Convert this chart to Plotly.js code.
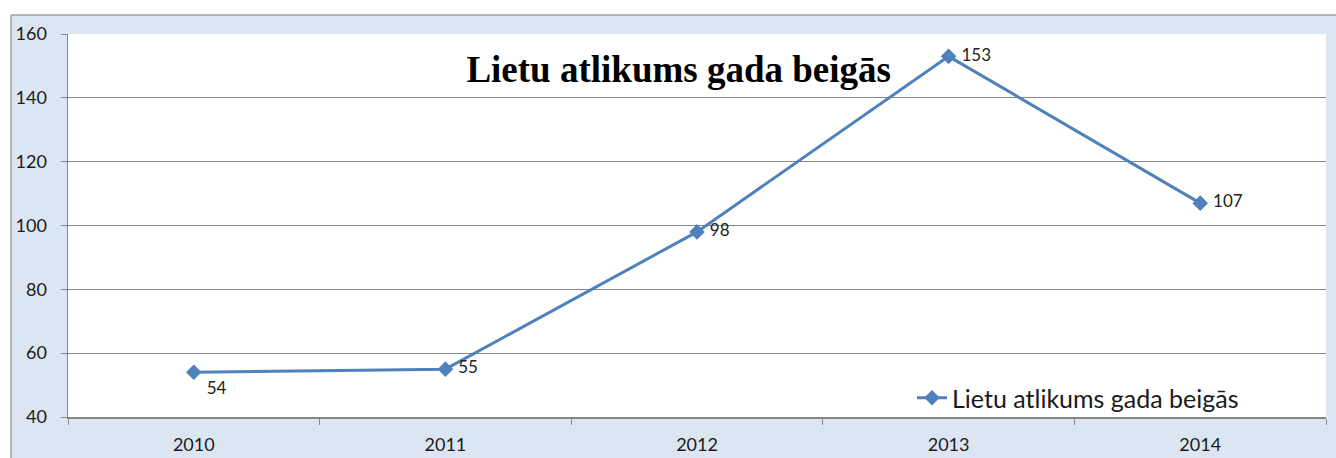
<!DOCTYPE html>
<html>
<head>
<meta charset="utf-8">
<script src="https://cdn.plot.ly/plotly-3.0.1.min.js"></script>
<style>html,body{margin:0;padding:0;background:#fff;}#chart{width:1336px;height:458px;}</style>
</head>
<body>
<div id="chart"></div>
<script>
const years = ["2010", "2011", "2012", "2013", "2014"];
const values = [54, 55, 98, 153, 107];
const seriesName = "Lietu atlikums gada beigās";
const chartTitle = "Lietu atlikums gada beigās";
const labelPositions = ["bottom right", "middle right", "middle right", "middle right", "middle right"];

const font = "Lato, 'Open Sans', sans-serif";

const trace = {
  x: years,
  y: values,
  type: "scatter",
  mode: "lines+markers+text",
  name: seriesName,
  text: values.map(v => "\u00a0" + v),
  textposition: labelPositions,
  textfont: {family: font, size: 17, color: "#222"},
  line: {color: "#4f81bd", width: 3},
  marker: {symbol: "diamond", size: 12, color: "#4f81bd"},
  cliponaxis: false
};

const layout = {
  width: 1336,
  height: 458,
  margin: {l: 68, r: 10, t: 34, b: 41, pad: 0},
  paper_bgcolor: "#dce6f2",
  plot_bgcolor: "#ffffff",
  font: {family: font, size: 18, color: "#1a1a1a"},
  title: {
    text: "<b>" + chartTitle + "</b>",
    font: {family: "'Liberation Serif', 'Times New Roman', serif", size: 37, color: "#000"},
    x: 0.508, xanchor: "center",
    y: 1 - 69 / 458, yanchor: "middle"
  },
  xaxis: {
    type: "category",
    range: [-0.5, 4.5],
    tickson: "boundaries",
    ticks: "outside",
    ticklen: 6,
    tickcolor: "#868686",
    showline: true,
    linecolor: "#868686",
    linewidth: 1.5,
    showgrid: false,
    tickfont: {family: font, size: 18, color: "#1a1a1a"},
    ticklabelstandoff: 11,
    fixedrange: true
  },
  yaxis: {
    range: [40, 160],
    dtick: 20,
    tick0: 40,
    ticks: "outside",
    ticklen: 6,
    tickcolor: "#868686",
    showline: true,
    linecolor: "#868686",
    linewidth: 1.5,
    showgrid: true,
    gridcolor: "#868686",
    gridwidth: 1,
    zeroline: false,
    tickfont: {family: font, size: 18, color: "#1a1a1a"},
    ticklabelstandoff: 10,
    fixedrange: true
  },
  showlegend: true,
  legend: {
    x: (912 - 68) / 1258, xanchor: "left",
    y: (417 - 398) / 383, yanchor: "middle",
    bgcolor: "rgba(0,0,0,0)",
    font: {family: font, size: 25, color: "#1a1a1a"}
  },
  shapes: [
    {type: "rect", xref: "paper", yref: "paper", layer: "above",
     x0: -68 / 1258, x1: (1336 - 68) / 1258, y0: 1 + 19 / 383, y1: 1 + 34 / 383,
     fillcolor: "#ffffff", line: {width: 0}},
    {type: "rect", xref: "paper", yref: "paper", layer: "above",
     x0: -68 / 1258, x1: -57 / 1258, y0: -41 / 383, y1: 1 + 34 / 383,
     fillcolor: "#ffffff", line: {width: 0}},
    {type: "line", xref: "paper", yref: "paper", layer: "above",
     x0: -57 / 1258, x1: (1336 - 68) / 1258, y0: 1 + 19 / 383, y1: 1 + 19 / 383,
     line: {color: "#a0a0a0", width: 1.5}},
    {type: "line", xref: "paper", yref: "paper", layer: "above",
     x0: -57 / 1258, x1: -57 / 1258, y0: -41 / 383, y1: 1 + 19 / 383,
     line: {color: "#a0a0a0", width: 1.5}}
  ]
};

Plotly.newPlot("chart", [trace], layout, {displayModeBar: false, staticPlot: true});
</script>
</body>
</html>
